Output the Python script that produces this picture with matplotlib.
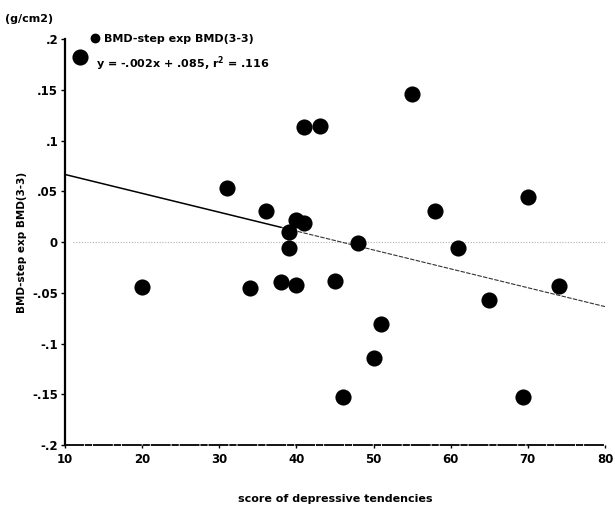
import numpy as np
import matplotlib
matplotlib.use('Agg')
import matplotlib.pyplot as plt

# score of depressive tendencies vs BMD change (g/cm2)
score = [12, 20, 31, 34, 36, 38, 39, 39, 40, 41, 40, 41, 43, 45, 46, 48,
         50, 51, 55, 58, 61, 65, 69.4, 70, 74]
bmd = [0.182, -0.044, 0.053, -0.045, 0.031, -0.039, 0.010, -0.006, 0.022,
       0.019, -0.042, 0.113, 0.114, -0.038, -0.153, -0.001, -0.114, -0.081,
       0.146, 0.031, -0.006, -0.057, -0.153, 0.044, -0.043]

# regression line as drawn
fit_slope = -0.00186
fit_icpt = 0.0852

xticks = [10, 20, 30, 40, 50, 60, 70, 80]
yticks = [-0.2, -0.15, -0.1, -0.05, 0, 0.05, 0.1, 0.15, 0.2]
ytick_labels = ['-.2', '-.15', '-.1', '-.05', '0', '.05', '.1', '.15', '.2']

plt.rcParams['font.family'] = ['DejaVu Sans']
plt.rcParams['font.weight'] = 'bold'

fig = plt.figure(figsize=(6.15, 5.08), dpi=100)
ax = fig.add_axes([0.1057, 0.124, 0.878, 0.799])

ax.set_xlim(10, 80)
ax.set_ylim(-0.2, 0.2)

# zero reference line
ax.plot([11, 80], [0, 0], color='#b0b0b0', lw=0.8, ls=(0, (1, 1.5)), zorder=1)

# regression line: solid on the left part, fainter dashes on the right
xl = np.array([10, 38])
xr = np.array([38, 80])
ax.plot(xl, fit_icpt + fit_slope * xl, color='black', lw=1.1, zorder=2)
ax.plot(xr, fit_icpt + fit_slope * xr, color='#333333', lw=0.8,
        ls=(0, (4, 1.2)), zorder=2)

ax.scatter(score, bmd, s=135, color='black', zorder=3, linewidths=0)

for s in ['top', 'right']:
    ax.spines[s].set_visible(False)
ax.spines['left'].set_linewidth(1.6)
ax.spines['bottom'].set_linewidth(1.3)
ax.spines['bottom'].set_linestyle((0, (10, 1.5, 3, 1.5)))

ax.set_xticks(xticks)
ax.set_xticklabels([str(t) for t in xticks])
ax.set_yticks(yticks)
ax.set_yticklabels(ytick_labels)
ax.tick_params(axis='y', direction='out', length=3, width=1, pad=2, labelsize=8.5)
ax.tick_params(axis='x', direction='out', length=2, width=1, pad=4, labelsize=8.5)

ax.set_xlabel('score of depressive tendencies', fontsize=8, fontweight='bold', labelpad=20)
ax.set_ylabel('BMD-step exp BMD(3-3)', fontsize=7.5, fontweight='bold', labelpad=4)

fig.text(0.008, 0.962, '(g/cm2)', fontsize=8, fontweight='bold', va='center')

# legend drawn by hand
ax.scatter([0.155], [0.925], s=50, color='black', transform=fig.transFigure,
           clip_on=False, linewidths=0)
fig.text(0.169, 0.923, 'BMD-step exp BMD(3-3)', fontsize=8, fontweight='bold', va='center')
fig.text(0.156, 0.874, 'y = -.002x + .085, r$^{\\mathbf{2}}$ = .116', fontsize=8,
         fontweight='bold', va='center')

fig.savefig('out.png', dpi=100)
